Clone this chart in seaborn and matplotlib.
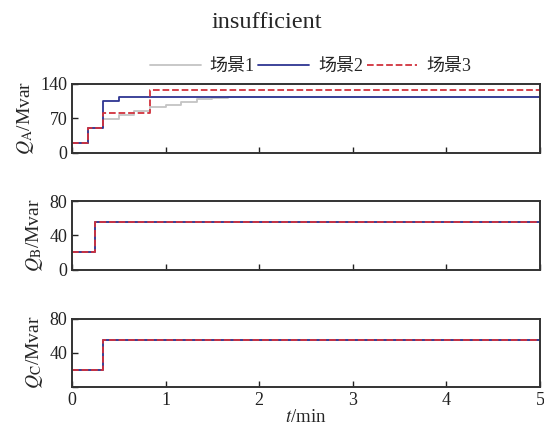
import matplotlib
matplotlib.use("Agg")
import matplotlib.pyplot as plt
import seaborn as sns
import pandas as pd

# ---- data ----
t_A = [0, 0.167, 0.333, 0.5, 0.667, 0.833, 1.0, 1.167, 1.333, 1.5, 1.667, 5.0]
qa_s1 = [20, 50, 68, 77, 85, 92, 98, 104, 109, 112, 113, 113]
qa_s2 = [20, 50, 106, 113, 113, 113, 113, 113, 113, 113, 113, 113]
qa_s3 = [20, 50, 81, 81, 81, 127, 127, 127, 127, 127, 127, 127]

t_B = [0, 0.25, 5.0]
qb_s1 = [20, 55, 55]
qb_s2 = [20, 55, 55]
qb_s3 = [20, 55, 55]

t_C = [0, 0.333, 5.0]
qc_s1 = [20, 55, 55]
qc_s2 = [20, 55, 55]
qc_s3 = [20, 55, 55]

scenes = ["场景1", "场景2", "场景3"]
yticks_A = [0, 70, 140]
yticks_B = [0, 40, 80]
yticks_C = [0, 40, 80]
xticks = [0, 1, 2, 3, 4, 5]

sns.set_theme(style="white")
plt.rcParams['font.family'] = ['Liberation Serif', 'Noto Sans CJK SC']
plt.rcParams['mathtext.fontset'] = 'stix'

colors = ['#c4c4c4', '#2e3592', '#d1313d']
styles = ['-', '-', '--']
widths = [1.3, 1.3, 1.3]

fig = plt.figure(figsize=(5.44, 4.28), dpi=100)
left, width = 72/544, 468/544
h = 68.5/428
axA = fig.add_axes([left, 1-152.5/428, width, h])
axB = fig.add_axes([left, 1-269.5/428, width, h])
axC = fig.add_axes([left, 1-387/428, width, h])

panels = [
    (axA, t_A, [qa_s1, qa_s2, qa_s3], yticks_A, (0, 140), r"$Q_\mathrm{A}$/Mvar"),
    (axB, t_B, [qb_s1, qb_s2, qb_s3], yticks_B, (0, 80), r"$Q_\mathrm{B}$/Mvar"),
    (axC, t_C, [qc_s1, qc_s2, qc_s3], yticks_C, (0, 80), r"$Q_\mathrm{C}$/Mvar"),
]

for i, (ax, t, series, yt, ylim, ylab) in enumerate(panels):
    for k, (vals, name) in enumerate(zip(series, scenes)):
        df = pd.DataFrame({'t': t, 'q': vals})
        sns.lineplot(data=df, x='t', y='q', ax=ax, drawstyle='steps-post',
                     color=colors[k], linestyle=styles[k], linewidth=widths[k],
                     label=name if i == 0 else None, legend=False)
    ax.set_xlim(0, 5)
    ax.set_ylim(*ylim)
    ax.set_yticks(yt)
    ax.set_xticks(xticks)
    ax.set_ylabel(ylab, fontsize=14, labelpad=3)
    ax.set_xlabel("")
    ax.tick_params(direction='in', length=4, width=1, labelsize=13,
                   left=True, bottom=True, colors='#222222', pad=3.5)
    for s in ax.spines.values():
        s.set_color('#333333')
        s.set_linewidth(1.4)
    if i < 2:
        ax.set_xticklabels([])

axC.set_yticklabels(['', '40', '80'])
axC.set_xlabel(r"$t$/min", fontsize=13.5, labelpad=0)
fig.align_ylabels([axA, axB, axC])

handles, labels = axA.get_legend_handles_labels()
axA.legend(handles, labels, loc='lower center', bbox_to_anchor=(0.51, 0.99),
           ncol=3, frameon=False, fontsize=13, handlelength=2.8,
           columnspacing=0.2, handletextpad=0.5, borderaxespad=0.1)

fig.text(0.49, 0.948, "insufficient", ha='center', va='center', fontsize=17.5)

fig.savefig("out.png", dpi=100)
